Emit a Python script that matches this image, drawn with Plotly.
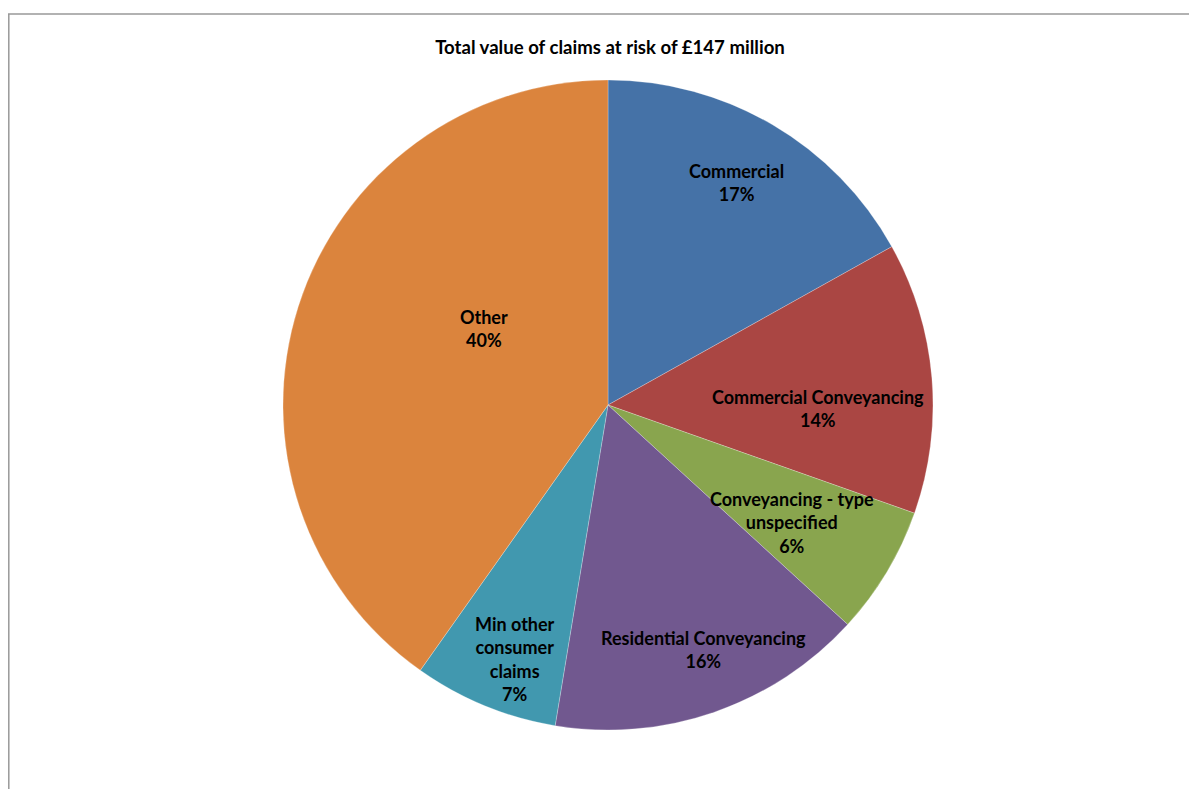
import math
import plotly.graph_objects as go

categories = ["Commercial", "Commercial Conveyancing", "Conveyancing - type unspecified",
              "Residential Conveyancing", "Min other consumer claims", "Other"]
label_text = ["Commercial", "Commercial Conveyancing", "Conveyancing - type<br>unspecified",
              "Residential Conveyancing", "Min other<br>consumer<br>claims", "Other"]
values = [16.9, 13.5, 6.4, 15.8, 7.2, 40.2]
pct_labels = ["17%", "14%", "6%", "16%", "7%", "40%"]
colors = ["#4572A7", "#AA4643", "#89A54E", "#71588F", "#4198AF", "#DB843D"]

# label placement style: fraction of radius and angular nudge (degrees)
label_radius = [0.79, 0.646, 0.671, 0.806, 0.832, 0.449]
label_nudge = [-0.5, 5.7, 1.5, -2.2, -2.2, 14.2]

W, H = 1189, 781          # page has an 8px body margin
cx, cy, R = 600, 397, 325  # pie centre / radius in figure pixels

fig = go.Figure(go.Pie(
    labels=categories,
    values=values,
    textinfo="none",
    marker=dict(colors=colors, line=dict(color="rgba(255,255,255,0.5)", width=0.5)),
    sort=False,
    direction="clockwise",
    rotation=0,
    showlegend=False,
    hoverinfo="label+percent",
    domain=dict(x=[(cx - R) / W, (cx + R) / W], y=[(H - cy - R) / H, (H - cy + R) / H]),
))

total = sum(values)
cum = 0.0
annotations = []
for v, t, p, f, nd in zip(values, label_text, pct_labels, label_radius, label_nudge):
    mid = (cum + v / 2) / total * 360 + nd
    cum += v
    px = cx + f * R * math.sin(math.radians(mid))
    py = cy - f * R * math.cos(math.radians(mid))
    annotations.append(dict(
        x=px / W, y=1 - py / H, xref="paper", yref="paper",
        text=f"<b>{t}<br>{p}</b>", showarrow=False, align="center",
        xanchor="center", yanchor="middle",
        font=dict(family="Lato", size=18, color="black"),
    ))

fig.update_layout(
    width=W, height=H,
    margin=dict(l=0, r=0, t=0, b=0),
    paper_bgcolor="white",
    title=dict(text="<b>Total value of claims at risk of £147 million</b>",
               x=602 / W, xanchor="center", y=1 - 39 / H, yanchor="middle",
               font=dict(family="Lato", size=18.6, color="black")),
    annotations=annotations,
    shapes=[
        dict(type="line", xref="paper", yref="paper", x0=0, x1=1, y0=1 - 6 / H, y1=1 - 6 / H,
             line=dict(color="#999999", width=1.5)),
        dict(type="line", xref="paper", yref="paper", x0=0.8 / W, x1=0.8 / W, y0=0, y1=1 - 6 / H,
             line=dict(color="#999999", width=1.5)),
    ],
)

fig.write_html("out.html")
